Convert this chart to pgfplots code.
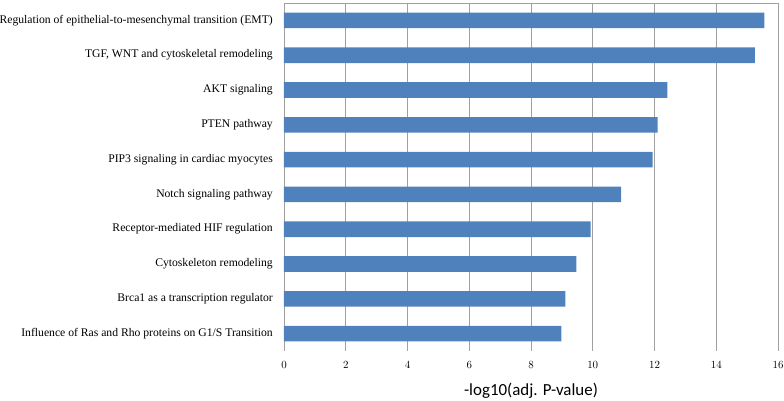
\documentclass[border=0pt]{standalone}
\usepackage{pgfplots}
\pgfplotsset{compat=1.18}
\usepackage{fontspec}
\setmainfont{Liberation Serif}
\newfontfamily\calibri{Carlito}
\definecolor{barblue}{HTML}{4F81BD}
\definecolor{gridgray}{HTML}{A0A0A0}

\begin{document}
\begin{tikzpicture}
\begin{axis}[
    scale only axis,
    width=494bp, height=348bp,
    xbar, bar width=15.6bp,
    xmin=0, xmax=16,
    ymin=0.5, ymax=10.5,
    y dir=reverse,
    xtick={0,2,...,16},
    ytick={1,...,10},
    yticklabels={
        Regulation of epithelial-to-mesenchymal transition (EMT),
        {TGF, WNT and cytoskeletal remodeling},
        AKT signaling,
        PTEN pathway,
        PIP3 signaling in cardiac myocytes,
        Notch signaling pathway,
        Receptor-mediated HIF regulation,
        Cytoskeleton remodeling,
        Brca1 as a transcription regulator,
        Influence of Ras and Rho proteins on G1/S Transition},
    extra y ticks={0.5},
    extra y tick labels={},
    extra y tick style={grid=major},
    xmajorgrids=true,
    grid style={gridgray, line width=0.8pt},
    axis line style={draw=none},
    major tick length=0pt,
    yticklabel style={font=\fontsize{11.7}{14}\selectfont, inner sep=0pt, anchor=east, xshift=-11bp},
    xticklabel style={font=\fontsize{11.2}{13}\selectfont, inner sep=0pt, anchor=north, yshift=-10bp},
    xlabel={-log10(adj. P-value)},
    xlabel style={font=\calibri\fontsize{17}{20}\selectfont, inner sep=0pt,
        at={(axis description cs:0.5,0)}, anchor=north, yshift=-32bp},
]
\addplot[fill=barblue, draw=none] coordinates {
    (15.56,1)
    (15.25,2)
    (12.42,3)
    (12.10,4)
    (11.94,5)
    (10.92,6)
    (9.93,7)
    (9.47,8)
    (9.11,9)
    (8.98,10)
};
\end{axis}
\pgfresetboundingbox
\path (current axis.south west) ++(-284bp,-50bp) coordinate (bl);
\path (current axis.north east) ++(6bp,3bp) coordinate (tr);
\useasboundingbox (bl) rectangle (tr);
\end{tikzpicture}
\end{document}
